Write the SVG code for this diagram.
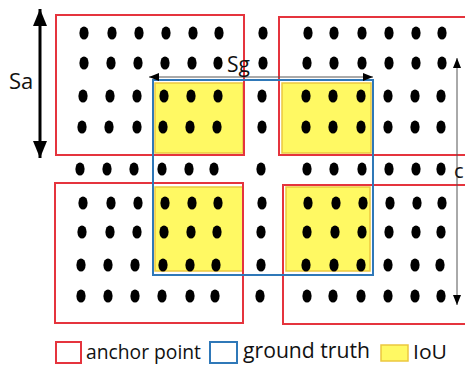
<svg xmlns="http://www.w3.org/2000/svg" width="465" height="365" viewBox="0 0 465 365">
<style>
.red{fill:none;stroke:#e5343d;stroke-width:2}
.blue{fill:none;stroke:#2f78b8;stroke-width:2}
.iou{fill:#fff963;stroke:#ecc73f;stroke-width:1.5}
.dot{fill:#000}
.lbl{font-family:"Open Sans","Liberation Sans",sans-serif;fill:#111}
.thin{stroke:#555;stroke-width:1;fill:none}
.thick{stroke:#000;stroke-width:3;fill:none}
</style>
<defs>
<ellipse id="d" rx="4.6" ry="6.6"/>
<marker id="ah" viewBox="0 0 10 8" refX="10" refY="4" markerWidth="10" markerHeight="8" markerUnits="userSpaceOnUse" orient="auto-start-reverse"><path d="M0,0L10,4L0,8z" fill="#000"/></marker>
<marker id="ahb" viewBox="0 0 17 14" refX="17" refY="7" markerWidth="17" markerHeight="14" markerUnits="userSpaceOnUse" orient="auto-start-reverse"><path d="M0,0L17,7L0,14z" fill="#000"/></marker>
</defs>
<rect width="465" height="365" fill="#fff"/>
<g id="iou-areas">
<rect class="iou" x="155" y="83" width="88" height="70"/>
<rect class="iou" x="282" y="83" width="89" height="70"/>
<rect class="iou" x="155" y="187" width="88" height="84"/>
<rect class="iou" x="286" y="187" width="84" height="84"/>
</g>
<g id="anchor-top-left"><rect class="red" x="56" y="15" width="188" height="140"/></g>
<g id="anchor-top-right"><rect class="red" x="279" y="17" width="200" height="138"/></g>
<g id="anchor-bottom-left"><rect class="red" x="55" y="183" width="188" height="140"/></g>
<g id="anchor-bottom-right"><rect class="red" x="283" y="185" width="200" height="139"/></g>
<g id="ground-truth"><rect class="blue" x="153" y="80" width="220" height="195"/></g>
<g id="dots" class="dot">
<g transform="translate(0,33)"><use href="#d" x="84"/><use href="#d" x="112"/><use href="#d" x="139"/><use href="#d" x="166"/><use href="#d" x="193"/><use href="#d" x="219"/><use href="#d" x="263"/><use href="#d" x="308"/><use href="#d" x="334"/><use href="#d" x="362"/><use href="#d" x="389"/><use href="#d" x="416"/><use href="#d" x="442"/></g>
<g transform="translate(0,63)"><use href="#d" x="84"/><use href="#d" x="111"/><use href="#d" x="138"/><use href="#d" x="165"/><use href="#d" x="192"/><use href="#d" x="218"/><use href="#d" x="263"/><use href="#d" x="307"/><use href="#d" x="334"/><use href="#d" x="362"/><use href="#d" x="389"/><use href="#d" x="416"/><use href="#d" x="442"/></g>
<g transform="translate(0,96)"><use href="#d" x="83"/><use href="#d" x="110"/><use href="#d" x="137"/><use href="#d" x="164"/><use href="#d" x="191"/><use href="#d" x="218"/><use href="#d" x="262"/><use href="#d" x="306"/><use href="#d" x="333"/><use href="#d" x="361"/><use href="#d" x="388"/><use href="#d" x="415"/><use href="#d" x="441"/></g>
<g transform="translate(0,127)"><use href="#d" x="82"/><use href="#d" x="109"/><use href="#d" x="137"/><use href="#d" x="163"/><use href="#d" x="190"/><use href="#d" x="217"/><use href="#d" x="262"/><use href="#d" x="306"/><use href="#d" x="333"/><use href="#d" x="361"/><use href="#d" x="388"/><use href="#d" x="415"/><use href="#d" x="441"/></g>
<g transform="translate(0,169)"><use href="#d" x="80"/><use href="#d" x="107"/><use href="#d" x="134"/><use href="#d" x="162"/><use href="#d" x="189"/><use href="#d" x="214"/><use href="#d" x="261"/><use href="#d" x="307"/><use href="#d" x="334"/><use href="#d" x="362"/><use href="#d" x="389"/><use href="#d" x="416"/><use href="#d" x="441"/></g>
<g transform="translate(0,203)"><use href="#d" x="83"/><use href="#d" x="111"/><use href="#d" x="138"/><use href="#d" x="165"/><use href="#d" x="192"/><use href="#d" x="218"/><use href="#d" x="262"/><use href="#d" x="308"/><use href="#d" x="336"/><use href="#d" x="363"/><use href="#d" x="390"/><use href="#d" x="417"/><use href="#d" x="442"/></g>
<g transform="translate(0,232)"><use href="#d" x="82"/><use href="#d" x="110"/><use href="#d" x="137"/><use href="#d" x="164"/><use href="#d" x="191"/><use href="#d" x="217"/><use href="#d" x="261"/><use href="#d" x="307"/><use href="#d" x="335"/><use href="#d" x="362"/><use href="#d" x="389"/><use href="#d" x="416"/><use href="#d" x="441"/></g>
<g transform="translate(0,265)"><use href="#d" x="81"/><use href="#d" x="108"/><use href="#d" x="135"/><use href="#d" x="163"/><use href="#d" x="190"/><use href="#d" x="216"/><use href="#d" x="261"/><use href="#d" x="306"/><use href="#d" x="334"/><use href="#d" x="361"/><use href="#d" x="388"/><use href="#d" x="415"/><use href="#d" x="440"/></g>
<g transform="translate(0,296)"><use href="#d" x="81"/><use href="#d" x="108"/><use href="#d" x="135"/><use href="#d" x="162"/><use href="#d" x="190"/><use href="#d" x="215"/><use href="#d" x="260"/><use href="#d" x="307"/><use href="#d" x="333"/><use href="#d" x="361"/><use href="#d" x="388"/><use href="#d" x="415"/><use href="#d" x="441"/></g>
</g>
<g id="connectors">
<line class="thick" x1="40" y1="9" x2="40" y2="158" marker-start="url(#ahb)" marker-end="url(#ahb)"/>
<line class="thin" x1="149" y1="77" x2="373" y2="77" marker-start="url(#ah)" marker-end="url(#ah)"/>
<line class="thin" x1="457" y1="58" x2="457" y2="305" marker-start="url(#ah)" marker-end="url(#ah)"/>
</g>
<g id="labels">
<text class="lbl" x="9" y="89" font-size="22">Sa</text>
<text class="lbl" x="227" y="72" font-size="21">Sg</text>
<text class="lbl" x="454" y="178" font-size="20">c</text>
</g>
<g id="legend">
<rect class="red" x="56" y="342" width="25" height="21"/>
<text class="lbl" x="86" y="359" font-size="20" textLength="115" lengthAdjust="spacingAndGlyphs">anchor point</text>
<rect class="blue" x="210" y="342" width="27" height="21"/>
<text class="lbl" x="243" y="358" font-size="22" textLength="127" lengthAdjust="spacingAndGlyphs">ground truth</text>
<rect class="iou" x="381" y="345" width="27" height="16"/>
<text class="lbl" x="413" y="359" font-size="20" textLength="34" lengthAdjust="spacingAndGlyphs">IoU</text>
</g>
</svg>
